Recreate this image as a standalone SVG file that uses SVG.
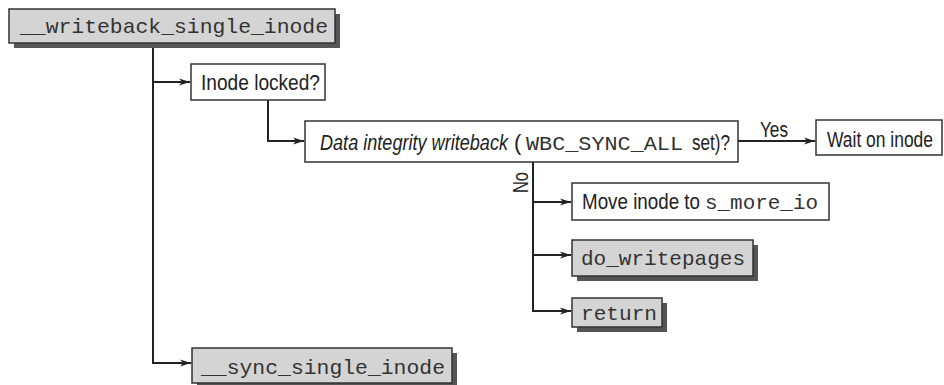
<svg xmlns="http://www.w3.org/2000/svg" width="944" height="385" viewBox="0 0 944 385">
<defs>
<marker id="arr" markerWidth="12" markerHeight="8" refX="11" refY="4" orient="auto" markerUnits="userSpaceOnUse">
<path d="M0,0.5 L11,4 L0,7.5 L3,4 Z" fill="#222"/>
</marker>
</defs>
<style>
.box{fill:#fff;stroke:#333;stroke-width:1.5}
.gbox{fill:#d4d4d4;stroke:#333;stroke-width:1.5}
.shadow{fill:#555}
.mono{font-family:"Liberation Mono","Courier New",monospace;font-size:21px;fill:#333}
.sans{font-family:"Liberation Sans",Arial,sans-serif;font-size:22px;fill:#222}
.m{font-family:"Liberation Mono","Courier New",monospace;font-size:20px;fill:#333}
.conn{fill:none;stroke:#222;stroke-width:2}
</style>
<rect width="944" height="385" fill="#fff"/>
<g id="connectors">
<path class="conn" d="M153,43 V363 H191" marker-end="url(#arr)"/>
<path class="conn" d="M153,82 H190" marker-end="url(#arr)"/>
<path class="conn" d="M268,100 V141 H304" marker-end="url(#arr)"/>
<path class="conn" d="M738,141 H815" marker-end="url(#arr)"/>
<path class="conn" d="M533,162 V311 H571" marker-end="url(#arr)"/>
<path class="conn" d="M533,202 H571" marker-end="url(#arr)"/>
<path class="conn" d="M533,255 H571" marker-end="url(#arr)"/>
<text class="sans" x="760" y="137" textLength="28" lengthAdjust="spacingAndGlyphs">Yes</text>
<text class="sans" transform="translate(528,193) rotate(-90)" textLength="21" lengthAdjust="spacingAndGlyphs">No</text>
</g>
<g id="writeback_single_inode">
<rect class="shadow" x="14" y="14" width="326" height="34"/>
<rect class="gbox" x="9" y="9" width="326" height="34"/>
<text class="mono" x="20" y="33" textLength="308" lengthAdjust="spacingAndGlyphs">__writeback_single_inode</text>
</g>
<g id="inode_locked">
<rect class="box" x="191" y="64" width="134" height="36"/>
<text class="sans" x="201" y="90" textLength="119" lengthAdjust="spacingAndGlyphs">Inode locked?</text>
</g>
<g id="data_integrity">
<rect class="box" x="305" y="121" width="433" height="41"/>
<text class="sans" y="150"><tspan x="320" font-style="italic" textLength="188" lengthAdjust="spacingAndGlyphs">Data integrity writeback</tspan><tspan x="514">(</tspan><tspan class="m" x="526" textLength="157" lengthAdjust="spacingAndGlyphs">WBC_SYNC_ALL</tspan><tspan x="692" textLength="38" lengthAdjust="spacingAndGlyphs">set)?</tspan></text>
</g>
<g id="wait_on_inode">
<rect class="box" x="816" y="120" width="126" height="35"/>
<text class="sans" x="827" y="147" textLength="106" lengthAdjust="spacingAndGlyphs">Wait on inode</text>
</g>
<g id="move_inode">
<rect class="box" x="572" y="183" width="257" height="37"/>
<text class="sans" y="209"><tspan x="582" textLength="118" lengthAdjust="spacingAndGlyphs">Move inode to</tspan><tspan class="m" x="705" style="font-size:21px" textLength="113" lengthAdjust="spacingAndGlyphs">s_more_io</tspan></text>
</g>
<g id="do_writepages">
<rect class="shadow" x="577" y="245" width="181" height="36"/>
<rect class="gbox" x="572" y="240" width="181" height="36"/>
<text class="mono" x="581" y="265" textLength="164" lengthAdjust="spacingAndGlyphs">do_writepages</text>
</g>
<g id="return">
<rect class="shadow" x="577" y="303" width="90" height="29"/>
<rect class="gbox" x="572" y="298" width="90" height="29"/>
<text class="mono" x="581" y="320" textLength="76" lengthAdjust="spacingAndGlyphs">return</text>
</g>
<g id="sync_single_inode">
<rect class="shadow" x="197" y="353" width="260" height="35"/>
<rect class="gbox" x="192" y="348" width="260" height="35"/>
<text class="mono" x="201" y="374" textLength="244" lengthAdjust="spacingAndGlyphs">__sync_single_inode</text>
</g>
</svg>
